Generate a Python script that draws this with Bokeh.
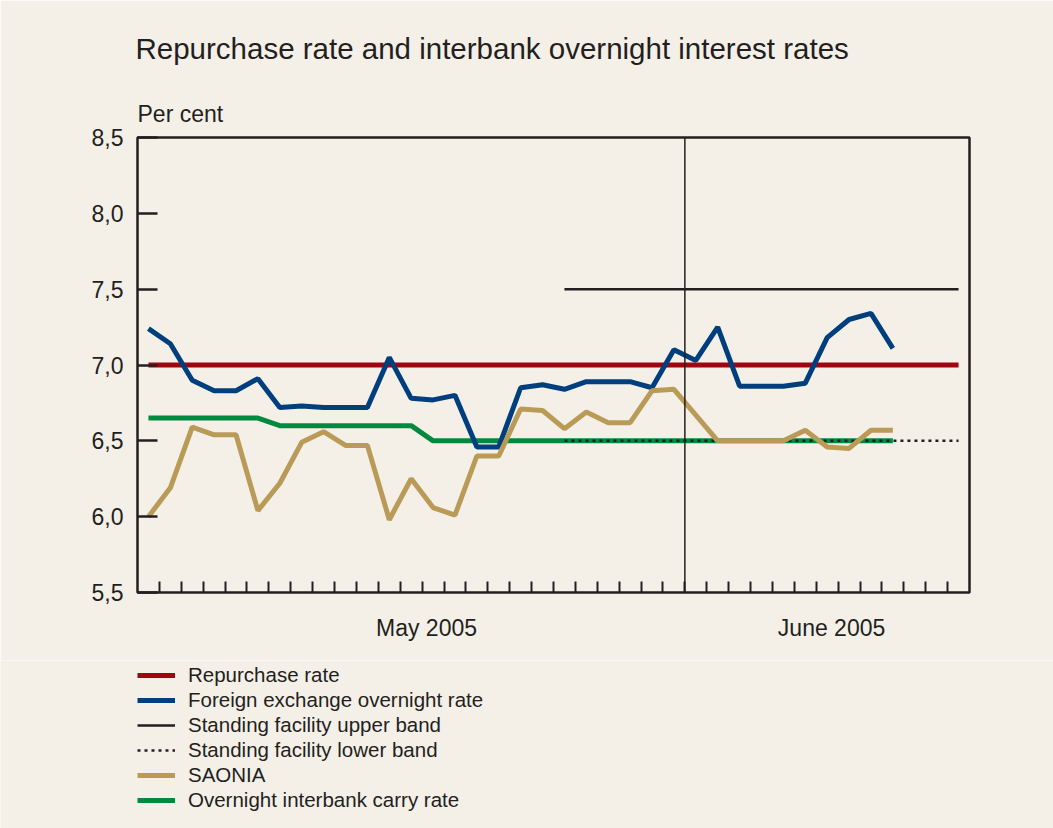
import numpy as np
from bokeh.plotting import figure
from bokeh.layouts import column
from bokeh.models import (FixedTicker, CustomJSTickFormatter, Span, Legend, LegendItem,
                          Title, Range1d)
from bokeh.embed import file_html
from bokeh.resources import INLINE

# ---------------- data ----------------
# trading-day slots 0..37 on the x axis; June starts at slot 25
n_slots = 38
month_break = 25
month_labels = {13.2: "May 2005", 31.7: "June 2005"}

repo_rate = [7.0] * 38                      # slots 0..37
fx_overnight = [7.24, 7.14, 6.90, 6.83, 6.83, 6.91, 6.72, 6.73, 6.72, 6.72,
                6.72, 7.05, 6.78, 6.77, 6.80, 6.46, 6.46, 6.85, 6.87, 6.84,
                6.89, 6.89, 6.89, 6.85, 7.10, 7.03, 7.25, 6.86, 6.86, 6.86,
                6.88, 7.18, 7.30, 7.34, 7.11]          # slots 0..34
saonia = [6.00, 6.19, 6.59, 6.54, 6.54, 6.04, 6.22, 6.49, 6.56, 6.47,
          6.47, 5.98, 6.25, 6.06, 6.01, 6.40, 6.40, 6.71, 6.70, 6.58,
          6.69, 6.62, 6.62, 6.83, 6.84, 6.67, 6.50, 6.50, 6.50, 6.50,
          6.57, 6.46, 6.45, 6.57, 6.57]                # slots 0..34
carry_rate = [6.65, 6.65, 6.65, 6.65, 6.65, 6.65, 6.60, 6.60, 6.60, 6.60,
              6.60, 6.60, 6.60, 6.50, 6.50, 6.50, 6.50, 6.50, 6.50, 6.50,
              6.50, 6.50, 6.50, 6.50, 6.50, 6.50, 6.50, 6.50, 6.50, 6.50,
              6.50, 6.50, 6.50, 6.50, 6.50]            # slots 0..34
band_start = 19
upper_band = [7.5] * 19                     # slots 19..37
lower_band = [6.5] * 19                     # slots 19..37
y_ticks = [5.5, 6.0, 6.5, 7.0, 7.5, 8.0, 8.5]

# ---------------- style ----------------
BG = "#F4F0E8"
INK = "#231F20"
FONT = "Liberation Sans"
RED = "#A0050F"
BLUE = "#003F7D"
TAN = "#B99B57"
GREEN = "#008A40"
W = 1053
LEFT = 137


def xs(series, start=0):
    return list(np.arange(start, start + len(series)) + 0.5)


p = figure(width=W, height=660, output_backend="svg", toolbar_location=None,
           x_range=Range1d(0, n_slots), y_range=Range1d(5.5, 8.5),
           min_border_left=LEFT, min_border_right=84, min_border_top=137,
           min_border_bottom=68)
p.background_fill_color = BG
p.border_fill_color = BG
p.outline_line_color = INK
p.outline_line_width = 2.5
p.grid.visible = False

# y axis
ya = p.yaxis[0]
ya.ticker = FixedTicker(ticks=y_ticks)
ya.formatter = CustomJSTickFormatter(code="return tick.toFixed(1).replace('.', ',')")
ya.axis_line_color = None
ya.major_tick_in = 20
ya.major_tick_out = 0
ya.major_tick_line_color = INK
ya.major_tick_line_width = 2.5
ya.minor_tick_line_color = None
ya.major_label_standoff = 14
ya.major_label_text_font = FONT
ya.major_label_text_font_size = "23px"
ya.major_label_text_color = INK

# x axis
xa = p.xaxis[0]
xa.ticker = FixedTicker(ticks=list(month_labels.keys()), minor_ticks=list(range(1, n_slots)))
xa.major_label_overrides = {k: v for k, v in month_labels.items()}
xa.axis_line_color = None
xa.major_tick_line_color = None
xa.major_tick_in = 0
xa.major_tick_out = 0
xa.minor_tick_in = 11
xa.minor_tick_out = 0
xa.minor_tick_line_color = INK
xa.minor_tick_line_width = 2
xa.major_label_standoff = 22
xa.major_label_text_font = FONT
xa.major_label_text_font_size = "23px"
xa.major_label_text_color = INK

# month separator
p.add_layout(Span(location=month_break, dimension="height", line_color=INK, line_width=1.5))

p.line(xs(repo_rate), repo_rate, line_color=RED, line_width=5)
p.line(xs(carry_rate), carry_rate, line_color=GREEN, line_width=5)
p.line(xs(upper_band, band_start), upper_band, line_color=INK, line_width=2.5)
p.line(xs(lower_band, band_start), lower_band, line_color=INK, line_width=2.5, line_dash="3 4")
p.line(xs(fx_overnight), fx_overnight, line_color=BLUE, line_width=5)
p.line(xs(saonia), saonia, line_color=TAN, line_width=5)

t_unit = Title(text="Per cent", align="left", text_font=FONT, text_font_size="23px",
               text_font_style="normal", text_color=INK, standoff=22, offset=0)
t_main = Title(text="Repurchase rate and interbank overnight interest rates", align="left",
               text_font=FONT, text_font_size="29.5px", text_font_style="normal",
               text_color=INK, standoff=46, offset=-2)
p.add_layout(t_unit, "above")
p.add_layout(t_main, "above")

# ---------------- legend panel ----------------
QH = 168
q = figure(width=W, height=QH, output_backend="svg", toolbar_location=None,
           x_axis_type=None, y_axis_type=None, x_range=Range1d(0, 1), y_range=Range1d(0, 1),
           min_border_left=0, min_border_right=0, min_border_top=0, min_border_bottom=0)
q.background_fill_color = BG
q.border_fill_color = BG
q.outline_line_color = None
q.grid.visible = False

legend_x = 0
if "frame_align" in q.properties():
    q.frame_align = False
    legend_x = LEFT

styles = [
    ("Repurchase rate", dict(line_color=RED, line_width=5)),
    ("Foreign exchange overnight rate", dict(line_color=BLUE, line_width=5)),
    ("Standing facility upper band", dict(line_color=INK, line_width=2.5)),
    ("Standing facility lower band", dict(line_color=INK, line_width=2.5, line_dash="3 4")),
    ("SAONIA", dict(line_color=TAN, line_width=5)),
    ("Overnight interbank carry rate", dict(line_color=GREEN, line_width=5)),
]
items = []
for label, st in styles:
    # legend-key renderers only: their points lie outside the visible range
    r = q.line(x=[-5, -4], y=[-5, -4], **st)
    items.append(LegendItem(label=label, renderers=[r]))

legend = Legend(items=items, location=(legend_x, 16), orientation="vertical", margin=0,
                padding=0, spacing=1, glyph_width=38, glyph_height=22, label_height=22,
                label_standoff=13, label_text_font=FONT, label_text_font_size="20.5px",
                label_text_color=INK, background_fill_alpha=0, border_line_color=None)
q.add_layout(legend)

layout = column(p, q, spacing=0)
html = file_html(layout, INLINE)
html = html.replace("<body>", '<body style="margin:0;background-color:%s;">' % BG, 1)
open("out.html", "w").write(html)
